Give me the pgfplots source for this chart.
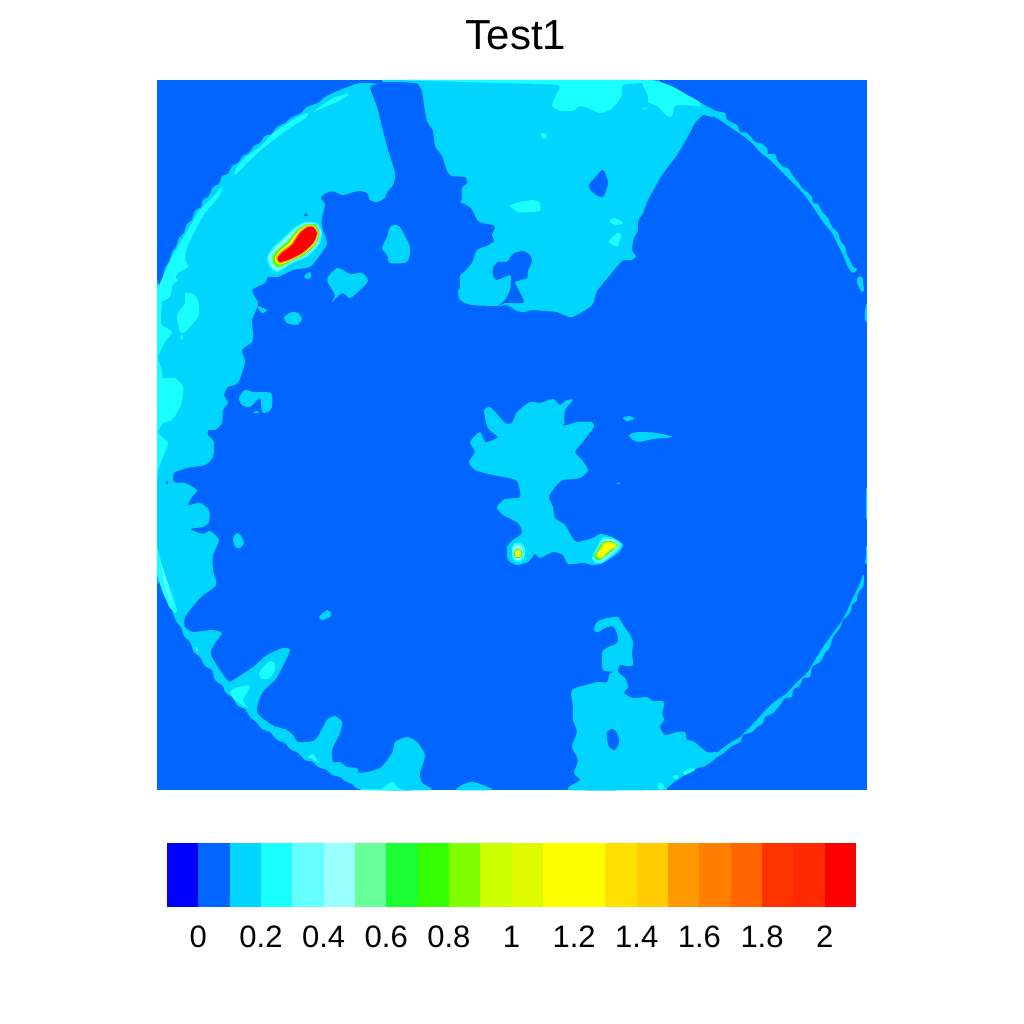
\documentclass[border=0pt]{standalone}
\usepackage{pgfplots}
\pgfplotsset{compat=1.18}
\usepackage{fontspec}
\setmainfont{Liberation Sans}
\definecolor{c00}{HTML}{0000FF}
\definecolor{c01}{HTML}{0066FF}
\definecolor{c02}{HTML}{00D5FF}
\definecolor{c03}{HTML}{19FFFF}
\definecolor{c04}{HTML}{66FFFF}
\definecolor{c05}{HTML}{99FFFF}
\definecolor{c06}{HTML}{66FF99}
\definecolor{c07}{HTML}{19FF33}
\definecolor{c08}{HTML}{33FF00}
\definecolor{c09}{HTML}{80FF00}
\definecolor{c10}{HTML}{CCFF00}
\definecolor{c11}{HTML}{E0FA00}
\definecolor{c12}{HTML}{FFFF00}
\definecolor{c13}{HTML}{FFFF00}
\definecolor{c14}{HTML}{FFE000}
\definecolor{c15}{HTML}{FFCC00}
\definecolor{c16}{HTML}{FF9900}
\definecolor{c17}{HTML}{FF8000}
\definecolor{c18}{HTML}{FF6600}
\definecolor{c19}{HTML}{FF3300}
\definecolor{c20}{HTML}{FF2A00}
\definecolor{c21}{HTML}{FF0000}
\pgfplotsset{
  S/.style={smooth cycle,tension=0.4,draw=none,fill=#1},
  L1/.style={S=c01},
  L2/.style={S=c02},
  L3/.style={S=c03},
  L4/.style={S=c04},
}
\begin{document}
\begin{tikzpicture}
\path[use as bounding box] (0,0) rectangle (1024pt,1024pt);
\begin{axis}[
  at={(157pt,234pt)},anchor=south west,
  width=710pt,height=710pt,scale only axis,
  xmin=157,xmax=867,ymin=80,ymax=790,y dir=reverse,
  hide axis,
  title={\fontsize{42}{50}\selectfont Test1},
  title style={at={(0.5,1)},anchor=base,yshift=24pt,xshift=4pt},
]
% background
\addplot[fill=c01,draw=none] coordinates {(157,80)(867,80)(867,790)(157,790)};
% left band with the long inner edge
\addplot[L2] coordinates {(378,84)(370,87)(377,107)(382,127)(388,150)(395,173)(393,185)(387,192)(385,198)(377,202)(370,200)(367,193)(358,191)(343,195)(332,191)(321,197)(325,205)(322,217)(322,227)(327,243)(320,255)(310,267)(293,270)(278,277)(268,277)(265,283)(252,290)(258,302)(257,308)(252,320)(253,333)(252,342)(242,350)(245,362)(238,383)(228,387)(224,395)(228,403)(223,410)(222,423)(215,430)(208,430)(208,435)(214,442)(213,457)(205,465)(187,468)(174,473)(174,482)(185,483)(197,490)(192,497)(188,505)(200,503)(209,510)(209,522)(203,527)(190,529)(203,534)(210,531)(219,540)(213,555)(213,570)(216,585)(200,598)(185,617)(185,627)(193,632)(212,630)(222,633)(215,643)(211,655)(227,680)(233,680)(253,667)(267,655)(283,648)(290,650)(282,668)(275,680)(262,693)(257,712)(272,725)(287,730)(293,735)(298,742)(315,740)(327,720)(335,716)(342,722)(340,733)(332,750)(333,762)(340,762)(347,767)(357,768)(360,773)(380,768)(392,753)(395,742)(407,737)(417,742)(425,755)(420,773)(422,783)(430,790)(363,790)(352,784)(345,781)(340,777)(332,775)(327,770)(318,767)(313,762)(305,760)(298,753)(290,749)(285,743)(277,740)(270,732)(262,729)(256,722)(250,717)(245,709)(238,706)(232,697)(226,693)(222,685)(215,680)(212,670)(205,666)(200,657)(194,652)(190,642)(184,636)(181,627)(176,621)(172,610)(168,603)(164,593)(160,580)(157,567)(157,297)(159,285)(163,277)(165,268)(169,262)(172,252)(176,247)(179,238)(184,233)(187,224)(192,220)(195,211)(201,207)(203,200)(209,196)(213,187)(219,184)(222,176)(228,174)(232,166)(238,163)(243,156)(249,153)(254,146)(260,143)(265,136)(272,134)(277,127)(285,123)(292,117)(300,114)(307,107)(318,103)(325,97)(335,92)(345,88)(360,83)};
\addplot[fill=c02,draw=none] coordinates {(382,80)(417,80)(417,83)(400,82)(382,82)};
\addplot[L2] coordinates {(257,306)(267,310)(262,313)};
\addplot[L2] coordinates {(457,790)(462,785)(472,782)(483,785)(492,790)};
% top centre region
\addplot[L2] coordinates {(410,80)(642,80)(660,82)(675,88)(687,95)(698,101)(710,108)(717,112)(712,117)(703,115)(695,123)(688,136)(677,155)(662,175)(648,200)(643,213)(638,221)(638,230)(634,238)(632,250)(636,256)(632,260)(622,261)(610,275)(597,291)(592,305)(572,317)(557,312)(543,311)(532,310)(525,312)(517,311)(507,305)(498,306)(472,305)(460,300)(458,291)(460,288)(460,276)(465,271)(472,263)(477,250)(487,246)(494,241)(492,235)(495,228)(493,225)(487,224)(478,221)(471,208)(460,202)(462,200)(462,188)(467,183)(465,177)(452,176)(447,171)(442,156)(435,146)(433,131)(427,121)(424,105)(422,91)(417,83)(410,81)};
\addplot[L1] coordinates {(493,268)(498,262)(507,262)(513,254)(523,251)(530,255)(532,261)(528,271)(527,278)(518,281)(515,283)(524,302)(510,303)(505,303)(498,306)(505,300)(510,290)(511,281)(510,275)(497,280)(493,275)};
\addplot[L1] coordinates {(589,185)(602,170)(605,173)(608,183)(603,197)(593,193)};
% arc on the right
\addplot[L2] coordinates {(710,111)(715,111)(725,113)(727,120)(737,125)(740,132)(747,133)(755,142)(760,143)(767,148)(768,154)(775,154)(777,160)(783,167)(788,168)(793,176)(798,182)(802,188)(807,192)(812,197)(813,203)(818,204)(823,213)(828,218)(832,227)(838,233)(840,240)(845,247)(847,255)(850,260)(853,267)(857,269)(853,273)(848,267)(843,255)(838,245)(832,233)(823,222)(815,210)(807,198)(800,190)(790,180)(780,170)(770,160)(760,152)(752,143)(742,135)(730,127)(723,122)(715,117)};
\addplot[L2] coordinates {(858,277)(862,277)(863,283)(864,290)(862,292)(859,287)(857,282)};
\addplot[L2] coordinates {(866,305)(867,305)(867,322)(865,320)(865,312)};
\addplot[L2] coordinates {(866,490)(867,490)(867,517)(866,517)};
\addplot[L2] coordinates {(866,547)(867,547)(867,563)(865,563)(866,555)};
\addplot[L2] coordinates {(864,577)(863,587)(858,593)(857,600)(852,605)(850,613)(843,620)(840,628)(833,637)(830,647)(825,653)(820,662)(812,667)(810,677)(803,678)(800,685)(793,690)(792,697)(785,698)(780,705)(773,713)(765,717)(763,723)(757,727)(752,732)(743,735)(740,742)(730,747)(725,752)(717,757)(718,752)(730,743)(740,737)(750,727)(763,713)(773,703)(787,693)(797,682)(807,673)(815,660)(823,647)(833,633)(843,619)(852,600)(860,583)(863,575)};
% lower right region
\addplot[L2] coordinates {(594,630)(597,622)(607,618)(618,617)(622,623)(630,635)(633,642)(632,653)(633,665)(627,666)(620,665)(618,672)(625,678)(628,687)(624,693)(633,698)(647,697)(653,701)(663,701)(664,707)(662,713)(664,720)(660,727)(665,735)(677,732)(685,732)(687,740)(693,741)(707,752)(718,752)(717,757)(707,765)(693,770)(677,780)(667,788)(661,790)(570,790)(580,780)(574,773)(578,760)(572,747)(577,732)(573,720)(573,707)(571,693)(575,688)(590,684)(597,682)(607,682)(610,673)(616,672)(603,670)(602,657)(603,650)(617,643)(618,637)(614,627)(607,627)(598,632)};
\addplot[L1] coordinates {(607,732)(612,729)(617,733)(619,742)(615,750)(609,747)(607,738)};
\addplot[L3] coordinates {(658,783)(661,783)(665,788)(660,790)(658,788)};
\addplot[L3] coordinates {(683,772)(693,768)(695,770)(685,775)};
\addplot[L3] coordinates {(673,776)(677,775)(679,778)(675,779)};
% central region
\addplot[L2] coordinates {(484,411)(490,407)(498,415)(505,423)(512,423)(517,412)(530,402)(540,403)(553,399)(560,405)(567,400)(573,400)(565,410)(565,425)(577,422)(592,422)(594,427)(588,435)(582,443)(575,452)(582,460)(588,470)(580,478)(563,480)(555,487)(549,497)(553,507)(555,518)(565,525)(572,537)(577,542)(593,538)(600,534)(612,537)(623,545)(618,553)(603,563)(593,565)(583,563)(568,564)(563,555)(553,552)(540,558)(535,554)(528,562)(517,565)(508,560)(507,547)(513,540)(522,533)(518,523)(503,515)(497,507)(505,499)(520,497)(518,483)(513,479)(493,475)(475,470)(469,462)(475,452)(470,442)(480,432)(485,442)(493,440)(498,437)(488,428)};
\addplot[L1] coordinates {(563,424)(565,424)(565,427)};
% small islands
\addplot[L2] coordinates {(395,225)(400,227)(410,247)(407,262)(390,263)(387,255)(382,248)(387,237)(390,227)};
\addplot[L2] coordinates {(328,277)(337,268)(343,270)(350,274)(362,273)(368,281)(360,290)(350,298)(342,293)(332,302)(335,295)(328,283)};
\addplot[L2] coordinates {(284,317)(292,312)(298,313)(302,319)(297,325)(287,323)};
\addplot[L2] coordinates {(304,276)(310,272)(311,277)(307,279)};
\addplot[L2] coordinates {(239,398)(245,390)(253,392)(271,393)(272,407)(268,412)(262,412)(260,398)(250,407)(242,405)};
\addplot[L2] coordinates {(253,412)(258,411)(259,413)(254,413)};
\addplot[L2] coordinates {(629,435)(638,432)(657,433)(672,437)(653,439)(640,442)(633,440)};
\addplot[L2] coordinates {(617,483)(620,483)(620,484)(617,484)};
\addplot[L2] coordinates {(623,418)(630,416)(634,419)(627,421)};
\addplot[L2] coordinates {(233,538)(237,533)(241,536)(244,543)(240,548)(235,547)};
\addplot[L2] coordinates {(319,617)(327,610)(331,613)(330,617)(322,620)};
\addplot[L1] coordinates {(304,216)(306,213)(308,216)};
\addplot[L1] coordinates {(166,481)(168,481)(168,484)(166,484)};
% next level patches
\addplot[L3] coordinates {(410,80)(642,80)(642,83)(625,84)(622,86)(622,95)(617,103)(610,110)(600,113)(590,109)(580,106)(575,110)(570,111)(560,111)(552,105)(557,93)(557,85)(500,83)(430,81)};
\addplot[L3] coordinates {(642,81)(648,96)(648,102)(657,106)(667,116)(672,116)(675,106)(683,105)(700,106)(698,101)(687,95)(675,88)(660,82)};
\addplot[L3] coordinates {(510,206)(520,202)(533,200)(540,203)(540,211)(530,212)(518,212)};
\addplot[L3] coordinates {(541,134)(545,133)(547,136)(545,139)(542,138)};
\addplot[L3] coordinates {(610,220)(615,218)(623,223)(617,225)(611,223)};
\addplot[L3] coordinates {(609,241)(617,233)(621,235)(618,246)(613,245)};
\addplot[L3] coordinates {(642,108)(647,108)(647,109)(642,109)};
\addplot[L3] coordinates {(349,94)(333,98)(317,109)(313,113)(320,109)(337,102)};
\addplot[L3] coordinates {(307,113)(293,120)(273,133)(265,142)(253,152)(245,158)(237,167)(235,175)(250,160)(267,145)(287,130)(307,117)};
\addplot[L3] coordinates {(222,187)(212,198)(200,210)(192,223)(182,240)(172,257)(163,277)(158,290)(157,303)(170,297)(172,287)(178,273)(188,267)(185,260)(187,247)(197,227)(205,213)(220,195)};
\addplot[L3] coordinates {(178,280)(172,285)(171,294)(163,297)(162,305)(161,317)(162,325)(172,332)(165,342)(158,357)(162,370)(163,378)(175,378)(183,387)(181,405)(172,420)(163,423)(158,432)(162,437)(168,443)(163,457)(158,470)(157,470)(157,297)(160,285)(166,272)};
\addplot[L3] coordinates {(177,315)(185,303)(185,293)(195,295)(199,305)(198,317)(185,332)(180,332)(178,323)};
\addplot[L3] coordinates {(180,337)(183,335)(183,339)(182,340)};
\addplot[L3] coordinates {(157,548)(160,557)(162,567)(167,580)(173,597)(177,610)(175,613)(170,608)(163,593)(158,577)(157,567)};
\addplot[L4] coordinates {(161,565)(163,568)(170,595)(173,605)(171,603)(165,587)};
\addplot[L3] coordinates {(259,673)(268,662)(274,662)(275,670)(270,678)(262,679)};
\addplot[L3] coordinates {(230,692)(238,687)(250,686)(243,700)(248,708)(242,705)(235,700)};
\addplot[L3] coordinates {(307,758)(313,754)(318,762)(310,758)};
\addplot[L3] coordinates {(195,647)(197,647)(198,652)(196,651)};
\addplot[L3] coordinates {(363,789)(382,789)(387,784)(393,782)(398,788)(403,790)(363,790)};
% upper left peak
\addplot[S=c03] coordinates {(267,257)(273,247)(283,238)(295,227)(305,222)(317,223)(322,232)(319,245)(307,257)(293,263)(278,272)(270,268)};
\addplot[S=c05] coordinates {(269,257)(275,248)(285,239)(296,228)(305.6,223)(316,224)(321,232)(318,244.6)(306,256)(292,262.4)(278.4,270)(271.6,266.4)};
\addplot[S=c06] coordinates {(271,257)(277,249)(287,241)(297,229)(306,224)(315.4,224.6)(320,232.4)(316.6,244)(305,255.4)(291,261.8)(279,268)(273,265)};
\addplot[S=c08] coordinates {(273,257)(278.5,250)(288,242)(298,230)(306.6,225)(315,225)(319,232.6)(315.7,244)(304,254.8)(290,261.4)(279,266.5)(274.4,263.6)};
\addplot[S=c12] coordinates {(275,257)(280,250.5)(289,243)(298.5,231)(307,225.5)(314,226)(318.5,232.7)(315,243.6)(303.5,254)(289.5,261)(279.4,265)(275.6,262.4)};
\addplot[S=c16] coordinates {(276,257)(281.5,251)(291,244)(299,232)(307.6,226)(313.6,226.4)(318,233)(314,243.3)(303,253.6)(289,260.5)(279.7,263.5)(276.8,261)};
\addplot[S=c21] coordinates {(278,257)(283,252)(292,245)(300,233)(308,227)(313,227)(317,233)(313,243)(302,253)(288,260)(280,262)(278,260)};
% central left peak
\addplot[S=c03] coordinates {(512,547)(515,543)(521,543)(525,548)(525,557)(521,562)(515,562)(512,557)};
\addplot[S=c05] coordinates {(513,548)(516,545)(520,545)(523,549)(523,556)(520,560)(516,560)(513,556)};
\addplot[S=c07] coordinates {(514,551)(516,549)(520,549)(522,551)(522,556)(520,558)(516,558)(514,556)};
\addplot[S=c12] coordinates {(515,552)(516,550)(520,550)(521,552)(521,555)(520,557)(516,557)(515,555)};
% central right peak
\addplot[S=c03] coordinates {(592,558)(598,545)(603,537)(613,538)(622,544)(617,552)(602,563)(595,563)};
\addplot[S=c05] coordinates {(593,557)(600,544)(605,539)(613,540)(619,545)(615,551)(602,561)(596,561)};
\addplot[S=c07] coordinates {(594,556)(602,543)(607,541)(614,542)(618,546)(613,550)(602,559)(597,560)};
\addplot[S=c10] coordinates {(596,555)(603,544)(607,542)(615,543)(617,547)(612,549)(602,558)(598,558)};
\addplot[S=c12] coordinates {(598,554)(604,545)(608,543)(614,544)(615,547)(610,549)(602,556)(599,557)};
\end{axis}
\begin{axis}[
  at={(167pt,117pt)},anchor=south west,
  width=689pt,height=64pt,scale only axis,
  xmin=0,xmax=22,ymin=0,ymax=1,
  axis line style={draw=none},
  major tick length=0pt,
  ytick=\empty,
  xtick={1,3,5,7,9,11,13,15,17,19,21},
  xticklabels={0,0.2,0.4,0.6,0.8,1,1.2,1.4,1.6,1.8,2},
  xticklabel style={font=\fontsize{31}{37}\selectfont,anchor=base,yshift=-41pt},
]
\addplot[fill=c00,draw=none] coordinates {(0,0)(1,0)(1,1)(0,1)};
\addplot[fill=c01,draw=none] coordinates {(1,0)(2,0)(2,1)(1,1)};
\addplot[fill=c02,draw=none] coordinates {(2,0)(3,0)(3,1)(2,1)};
\addplot[fill=c03,draw=none] coordinates {(3,0)(4,0)(4,1)(3,1)};
\addplot[fill=c04,draw=none] coordinates {(4,0)(5,0)(5,1)(4,1)};
\addplot[fill=c05,draw=none] coordinates {(5,0)(6,0)(6,1)(5,1)};
\addplot[fill=c06,draw=none] coordinates {(6,0)(7,0)(7,1)(6,1)};
\addplot[fill=c07,draw=none] coordinates {(7,0)(8,0)(8,1)(7,1)};
\addplot[fill=c08,draw=none] coordinates {(8,0)(9,0)(9,1)(8,1)};
\addplot[fill=c09,draw=none] coordinates {(9,0)(10,0)(10,1)(9,1)};
\addplot[fill=c10,draw=none] coordinates {(10,0)(11,0)(11,1)(10,1)};
\addplot[fill=c11,draw=none] coordinates {(11,0)(12,0)(12,1)(11,1)};
\addplot[fill=c12,draw=none] coordinates {(12,0)(13,0)(13,1)(12,1)};
\addplot[fill=c13,draw=none] coordinates {(13,0)(14,0)(14,1)(13,1)};
\addplot[fill=c14,draw=none] coordinates {(14,0)(15,0)(15,1)(14,1)};
\addplot[fill=c15,draw=none] coordinates {(15,0)(16,0)(16,1)(15,1)};
\addplot[fill=c16,draw=none] coordinates {(16,0)(17,0)(17,1)(16,1)};
\addplot[fill=c17,draw=none] coordinates {(17,0)(18,0)(18,1)(17,1)};
\addplot[fill=c18,draw=none] coordinates {(18,0)(19,0)(19,1)(18,1)};
\addplot[fill=c19,draw=none] coordinates {(19,0)(20,0)(20,1)(19,1)};
\addplot[fill=c20,draw=none] coordinates {(20,0)(21,0)(21,1)(20,1)};
\addplot[fill=c21,draw=none] coordinates {(21,0)(22,0)(22,1)(21,1)};
\end{axis}
\end{tikzpicture}
\end{document}
